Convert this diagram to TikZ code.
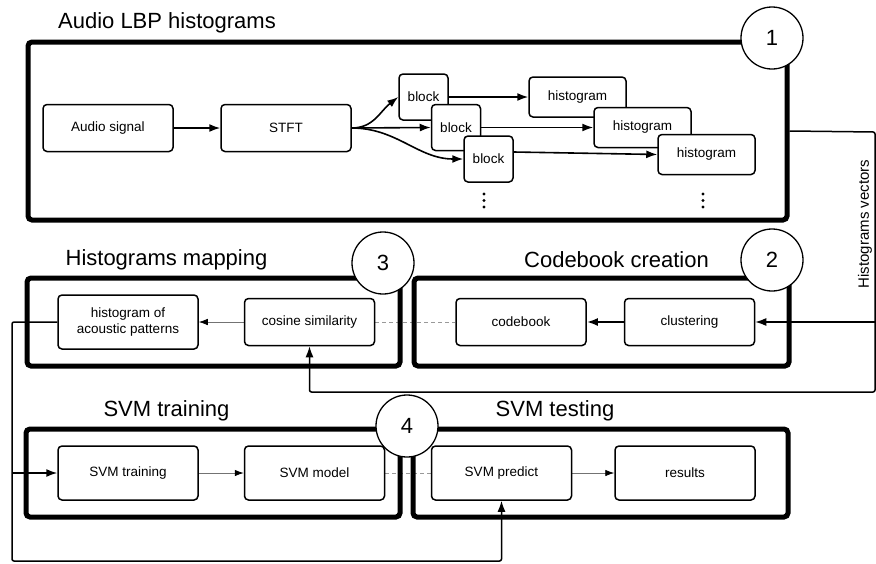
\documentclass[tikz,border=0pt]{standalone}
\usepackage{fontspec}
\setmainfont{Liberation Sans}
\usepackage{tikz}
\usetikzlibrary{arrows.meta}
\usetikzlibrary{backgrounds}

\begin{document}
\begin{tikzpicture}[x=1pt,y=-1pt,
  frame/.style={draw,line width=5pt,rounded corners=4pt,inner sep=0pt},
  title/.style={font=\fontsize{22}{26}\selectfont},
  num/.style={circle,draw,line width=1.3pt,fill=white,minimum size=62pt,inner sep=0pt,font=\fontsize{22}{26}\selectfont},
  box/.style={draw,rounded corners=4pt,line width=1.5pt,fill=white,align=center,inner sep=2pt,
              minimum width=130pt,minimum height=47pt,font=\fontsize{13.5}{16}\selectfont},
  small/.style={box,minimum width=49pt,minimum height=46pt},
  hbox/.style={box,minimum width=97pt,minimum height=40pt},
  wide/.style={box,minimum width=140pt,minimum height=54pt},
  arr/.style={-{Latex[length=11pt,width=8pt]},line width=1.6pt},
  soft/.style={-{Latex[length=9pt,width=6.5pt,black]},line width=0.8pt,draw=black!55},
  link/.style={line width=0.8pt,draw=black!40,dash pattern=on 4pt off 3pt}]

\useasboundingbox (0,0) rectangle (876,563);

% frames of the four stages
\node[frame,minimum width=759pt,minimum height=178pt] (f1) at (407.5,131) {};
\node[frame,minimum width=375pt,minimum height=88pt] (f2) at (601.5,322) {};
\node[frame,minimum width=373pt,minimum height=88pt] (f3) at (213.5,322) {};
\node[frame,minimum width=374pt,minimum height=88pt] (f4) at (213,473) {};
\node[frame,minimum width=375pt,minimum height=88pt] (f5) at (600.5,473) {};

\node[title] (t1) at (167,23) {Audio LBP histograms};
\node[title] (t3) at (166.5,260) {Histograms mapping};
\node[title] (t2) at (616.5,260) {Codebook creation};
\node[title] (t4) at (166.5,411) {SVM training};
\node[title] (t5) at (555,411) {SVM testing};

\node[num] (n1) at (772,38) {1};
\node[num] (n2) at (772,260) {2};
\node[num] (n3) at (383,263) {3};
\node[num] (n4) at (407,426) {4};

% stage 1
\node[box] (sig) at (108,128) {Audio signal};
\node[box] (stft) at (286,128) {STFT};
\node[small] (b1) at (423.5,97) {block};
\node[small] (b2) at (456,127.5) {block};
\node[small] (b3) at (488.5,159) {block};
\node[hbox] (h1) at (577.5,97) {histogram};
\node[hbox] (h2) at (642.5,127.5) {histogram};
\node[hbox] (h3) at (706.5,154.5) {histogram};
\foreach \x in {484,703}
  \foreach \y in {194,200.5,207}
    \fill (\x,\y) circle (1.6pt);

\node[rotate=90,font=\fontsize{15}{18}\selectfont] (hv) at (865,224) {Histograms vectors};

% stages 2 and 3
\node[wide] (pat) at (128,322) {histogram of\\acoustic patterns};
\node[box] (cos) at (309.5,322) {cosine similarity};
\node[box] (cb) at (521,322) {codebook};
\node[box] (clu) at (689.5,322) {clustering};

% stage 4
\node[wide] (tr) at (128,473) {SVM training};
\node[wide] (mod) at (314.5,473) {SVM model};
\node[wide] (pred) at (501.5,473) {SVM predict};
\node[wide] (res) at (685,473) {results};

\coordinate (vt) at (875,132);
\coordinate (vb) at (875,392);
\coordinate (lb) at (12,561);

\begin{pgfonlayer}{background}
\draw[arr] (sig) -- (stft);
\draw[arr] (stft.east) .. controls +(22,0) and +(-18,14) .. (b1.west);
\draw[arr] (stft.east) -- (b2.west);
\draw[arr] (stft.east) .. controls +(45,0) and +(-45,0) .. (b3.west);
\draw[arr] (b1) -- (h1);
\draw[arr] (b2) -- (h2);
\draw[arr] ([yshift=7pt]b3.east) -- (h3.west);

\draw[arr,line width=1.5pt,rounded corners=2pt] (f1.east) -- (vt) -- (vb) -| (cos.south);
\draw[arr,line width=1.5pt] (vt |- clu) -- (clu.east);
\draw[arr,line width=2.8pt] (clu) -- (cb);
\draw[soft] (cos) -- (pat);
\draw[link] (cos) -- (cb);

\draw[arr,line width=1.5pt,rounded corners=2pt] (pat.west) -| (lb) -| (pred.south);
\draw[arr,line width=1.5pt] (lb |- tr) -- (tr.west);
\draw[soft] (tr) -- (mod);
\draw[link] (mod) -- (pred);
\draw[soft] (pred) -- (res);
\end{pgfonlayer}
\end{tikzpicture}
\end{document}
